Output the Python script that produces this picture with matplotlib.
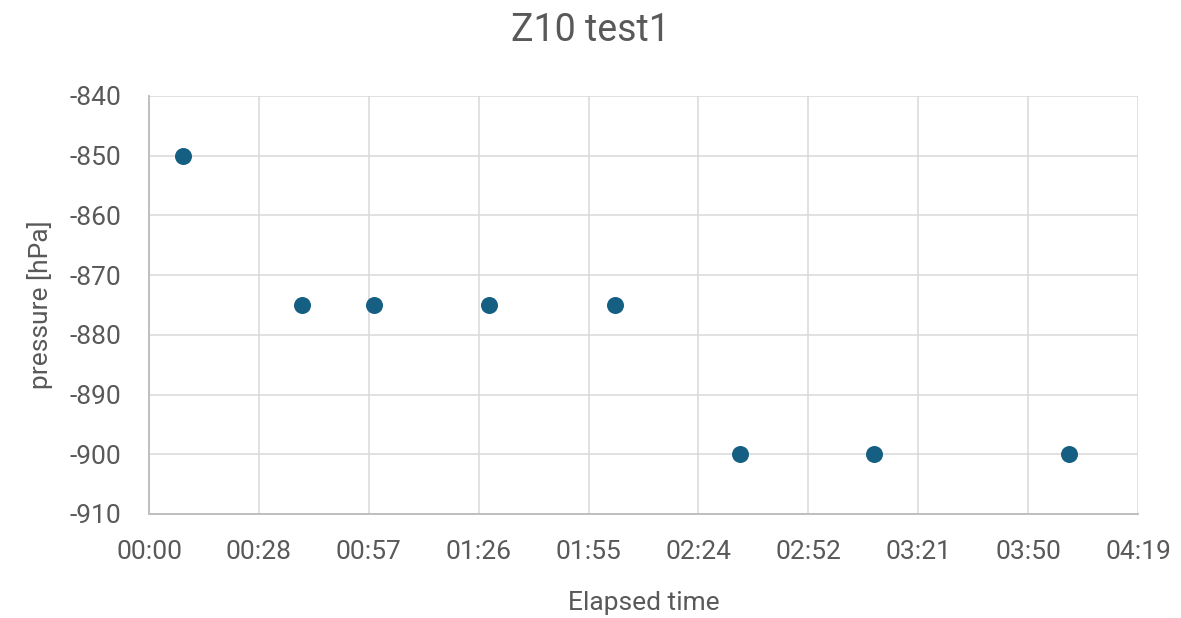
import matplotlib.pyplot as plt

# elapsed time in minutes, pressure in hPa
elapsed_min = [9, 40, 59, 89, 122, 155, 190, 241]
pressure = [-850, -875, -875, -875, -875, -900, -900, -900]

x_ticks = [0, 28.8, 57.6, 86.4, 115.2, 144.0, 172.8, 201.6, 230.4, 259.2]
x_labels = ["00:00", "00:28", "00:57", "01:26", "01:55", "02:24", "02:52", "03:21", "03:50", "04:19"]
y_ticks = [-910, -900, -890, -880, -870, -860, -850, -840]

text_col = "#595959"
grid_col = "#D9D9D9"
dot_col = "#156082"

plt.rcParams['font.family'] = ['Roboto', 'DejaVu Sans']
plt.rcParams['axes.unicode_minus'] = False

fig = plt.figure(figsize=(11.81, 6.18), dpi=100)
ax = fig.add_axes([0.1262, 0.1683, 0.9636 - 0.1262, 0.8447 - 0.1683])

ax.scatter(elapsed_min, pressure, s=150, color=dot_col, zorder=3, linewidths=0)

ax.set_xlim(0, 259.2)
ax.set_ylim(-910, -840)
ax.set_xticks(x_ticks)
ax.set_xticklabels(x_labels)
ax.set_yticks(y_ticks)

ax.grid(True, color=grid_col, linewidth=1.1)
ax.set_axisbelow(True)
for side in ["top", "right"]:
    ax.spines[side].set_visible(False)
for side in ["left", "bottom"]:
    ax.spines[side].set_color("#BFBFBF")
    ax.spines[side].set_linewidth(1.4)

ax.tick_params(length=0, labelsize=19, labelcolor=text_col)
ax.tick_params(axis="x", pad=19)
ax.tick_params(axis="y", pad=20)
ax.set_xlabel("Elapsed time", fontsize=19, color=text_col, labelpad=19)
ax.set_ylabel("pressure [hPa]", fontsize=19, color=text_col, labelpad=12)

fig.text(0.5, 0.951, "Z10 test1", ha="center", va="center", fontsize=27, color=text_col)

fig.savefig("out.png", dpi=100)
